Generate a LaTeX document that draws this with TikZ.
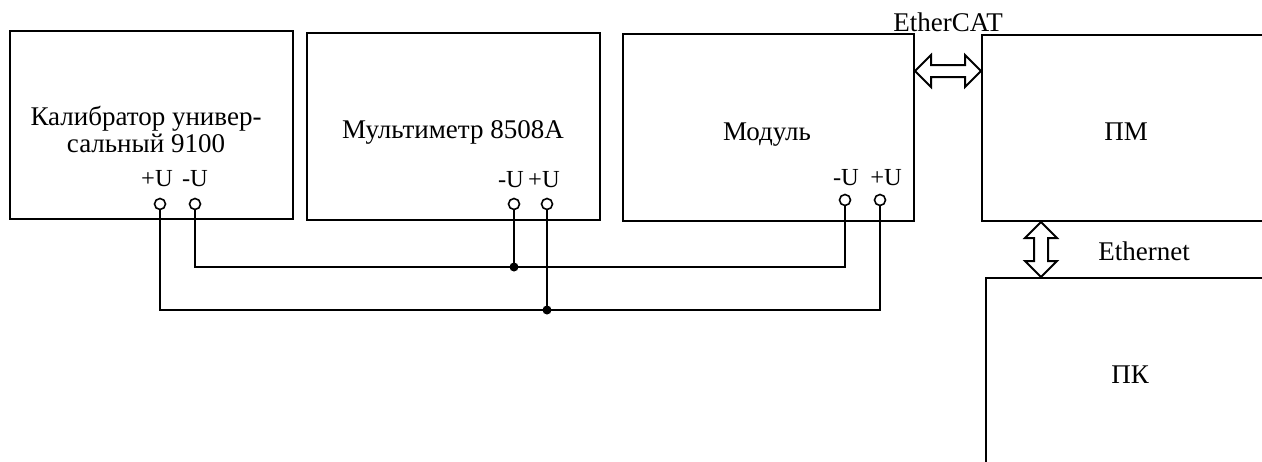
\documentclass[tikz,border=0pt]{standalone}
\usepackage{fontspec}
\setmainfont{Liberation Serif}
\usetikzlibrary{calc}
\begin{document}
\begin{tikzpicture}[x=1pt,y=-1pt,
  box/.style={draw, line width=2pt, rectangle, inner sep=0pt},
  txt/.style={font=\fontsize{27}{27}\selectfont, inner sep=0pt, align=center},
  lbl/.style={font=\fontsize{24.5}{26}\selectfont, inner sep=0pt},
  term/.style={draw, circle, line width=1.6pt, minimum size=11pt, inner sep=0pt, fill=white},
  wire/.style={line width=1.7pt},
  dblarrow/.style={draw, line width=2pt, line join=miter, fill=white}]
\useasboundingbox (0,0) rectangle (1262,461);
\clip (0,0) rectangle (1262,461);
% boxes
\node[box, minimum width=283pt, minimum height=188pt] (k) at (151.5,125) {};
\node[box, minimum width=293pt, minimum height=187pt] (m) at (453.5,126.5) {};
\node[box, minimum width=291pt, minimum height=187pt] (mod) at (768.5,127.5) {};
\node[box, minimum width=293pt, minimum height=186pt] (pm) at (1128.5,128) {};
\node[box, minimum width=289pt, minimum height=197pt] (pk) at (1130.5,376.5) {};
% texts
\node[txt] (tk) at (146,129) {Калибратор универ-\\сальный 9100};
\node[txt, anchor=base] (tm) at (453,138) {Мультиметр 8508А};
\node[txt, anchor=base] (tmod) at (767,140) {Модуль};
\node[txt, anchor=base] (tpm) at (1126,140) {ПМ};
\node[txt, anchor=base] (tpk) at (1130,383) {ПК};
\node[txt, anchor=base] (tec) at (948,31) {EtherCAT};
\node[txt, anchor=base] (teth) at (1144,260) {Ethernet};
% terminal labels
\node[lbl, anchor=base] (lk1) at (157,186) {+U};
\node[lbl, anchor=base] (lk2) at (195,186) {-U};
\node[lbl, anchor=base] (lm1) at (511,187) {-U};
\node[lbl, anchor=base] (lm2) at (544,187) {+U};
\node[lbl, anchor=base] (lmod1) at (846,185) {-U};
\node[lbl, anchor=base] (lmod2) at (886,185) {+U};
% terminals
\node[term] (k1) at (160,204) {};
\node[term] (k2) at (195,204) {};
\node[term] (m1) at (514,204) {};
\node[term] (m2) at (547,204) {};
\node[term] (mod1) at (845,200) {};
\node[term] (mod2) at (880,200) {};
% wires
\coordinate (j1) at (m1.south |- 0,267);
\coordinate (j2) at (m2.south |- 0,310);
\draw[wire] (k2.south) |- (j1) -| (mod1.south);
\draw[wire] (m1.south) -- (j1);
\draw[wire] (k1.south) |- (j2) -| (mod2.south);
\draw[wire] (m2.south) -- (j2);
\fill (j1) circle (4.5);
\fill (j2) circle (4.5);
% EtherCAT double arrow
\coordinate (ea) at (mod.east |- 0,71);
\coordinate (eb) at (pm.west |- 0,71);
\draw[dblarrow] (ea) -- ++(16,-16) -- ++(0,10) -- ($(eb)+(-16,-6)$) -- ++(0,-10) -- (eb)
  -- ++(-16,16) -- ++(0,-10) -- ($(ea)+(16,6)$) -- ++(0,10) -- cycle;
% Ethernet double arrow
\coordinate (ta) at (pm.south -| 1041,0);
\coordinate (tb) at (pk.north -| 1041,0);
\draw[dblarrow] (ta) -- ++(16,16) -- ++(-9,0) -- ($(tb)+(7,-16)$) -- ++(9,0) -- (tb)
  -- ++(-16,-16) -- ++(9,0) -- ($(ta)+(-7,16)$) -- ++(-9,0) -- cycle;
\end{tikzpicture}
\end{document}
